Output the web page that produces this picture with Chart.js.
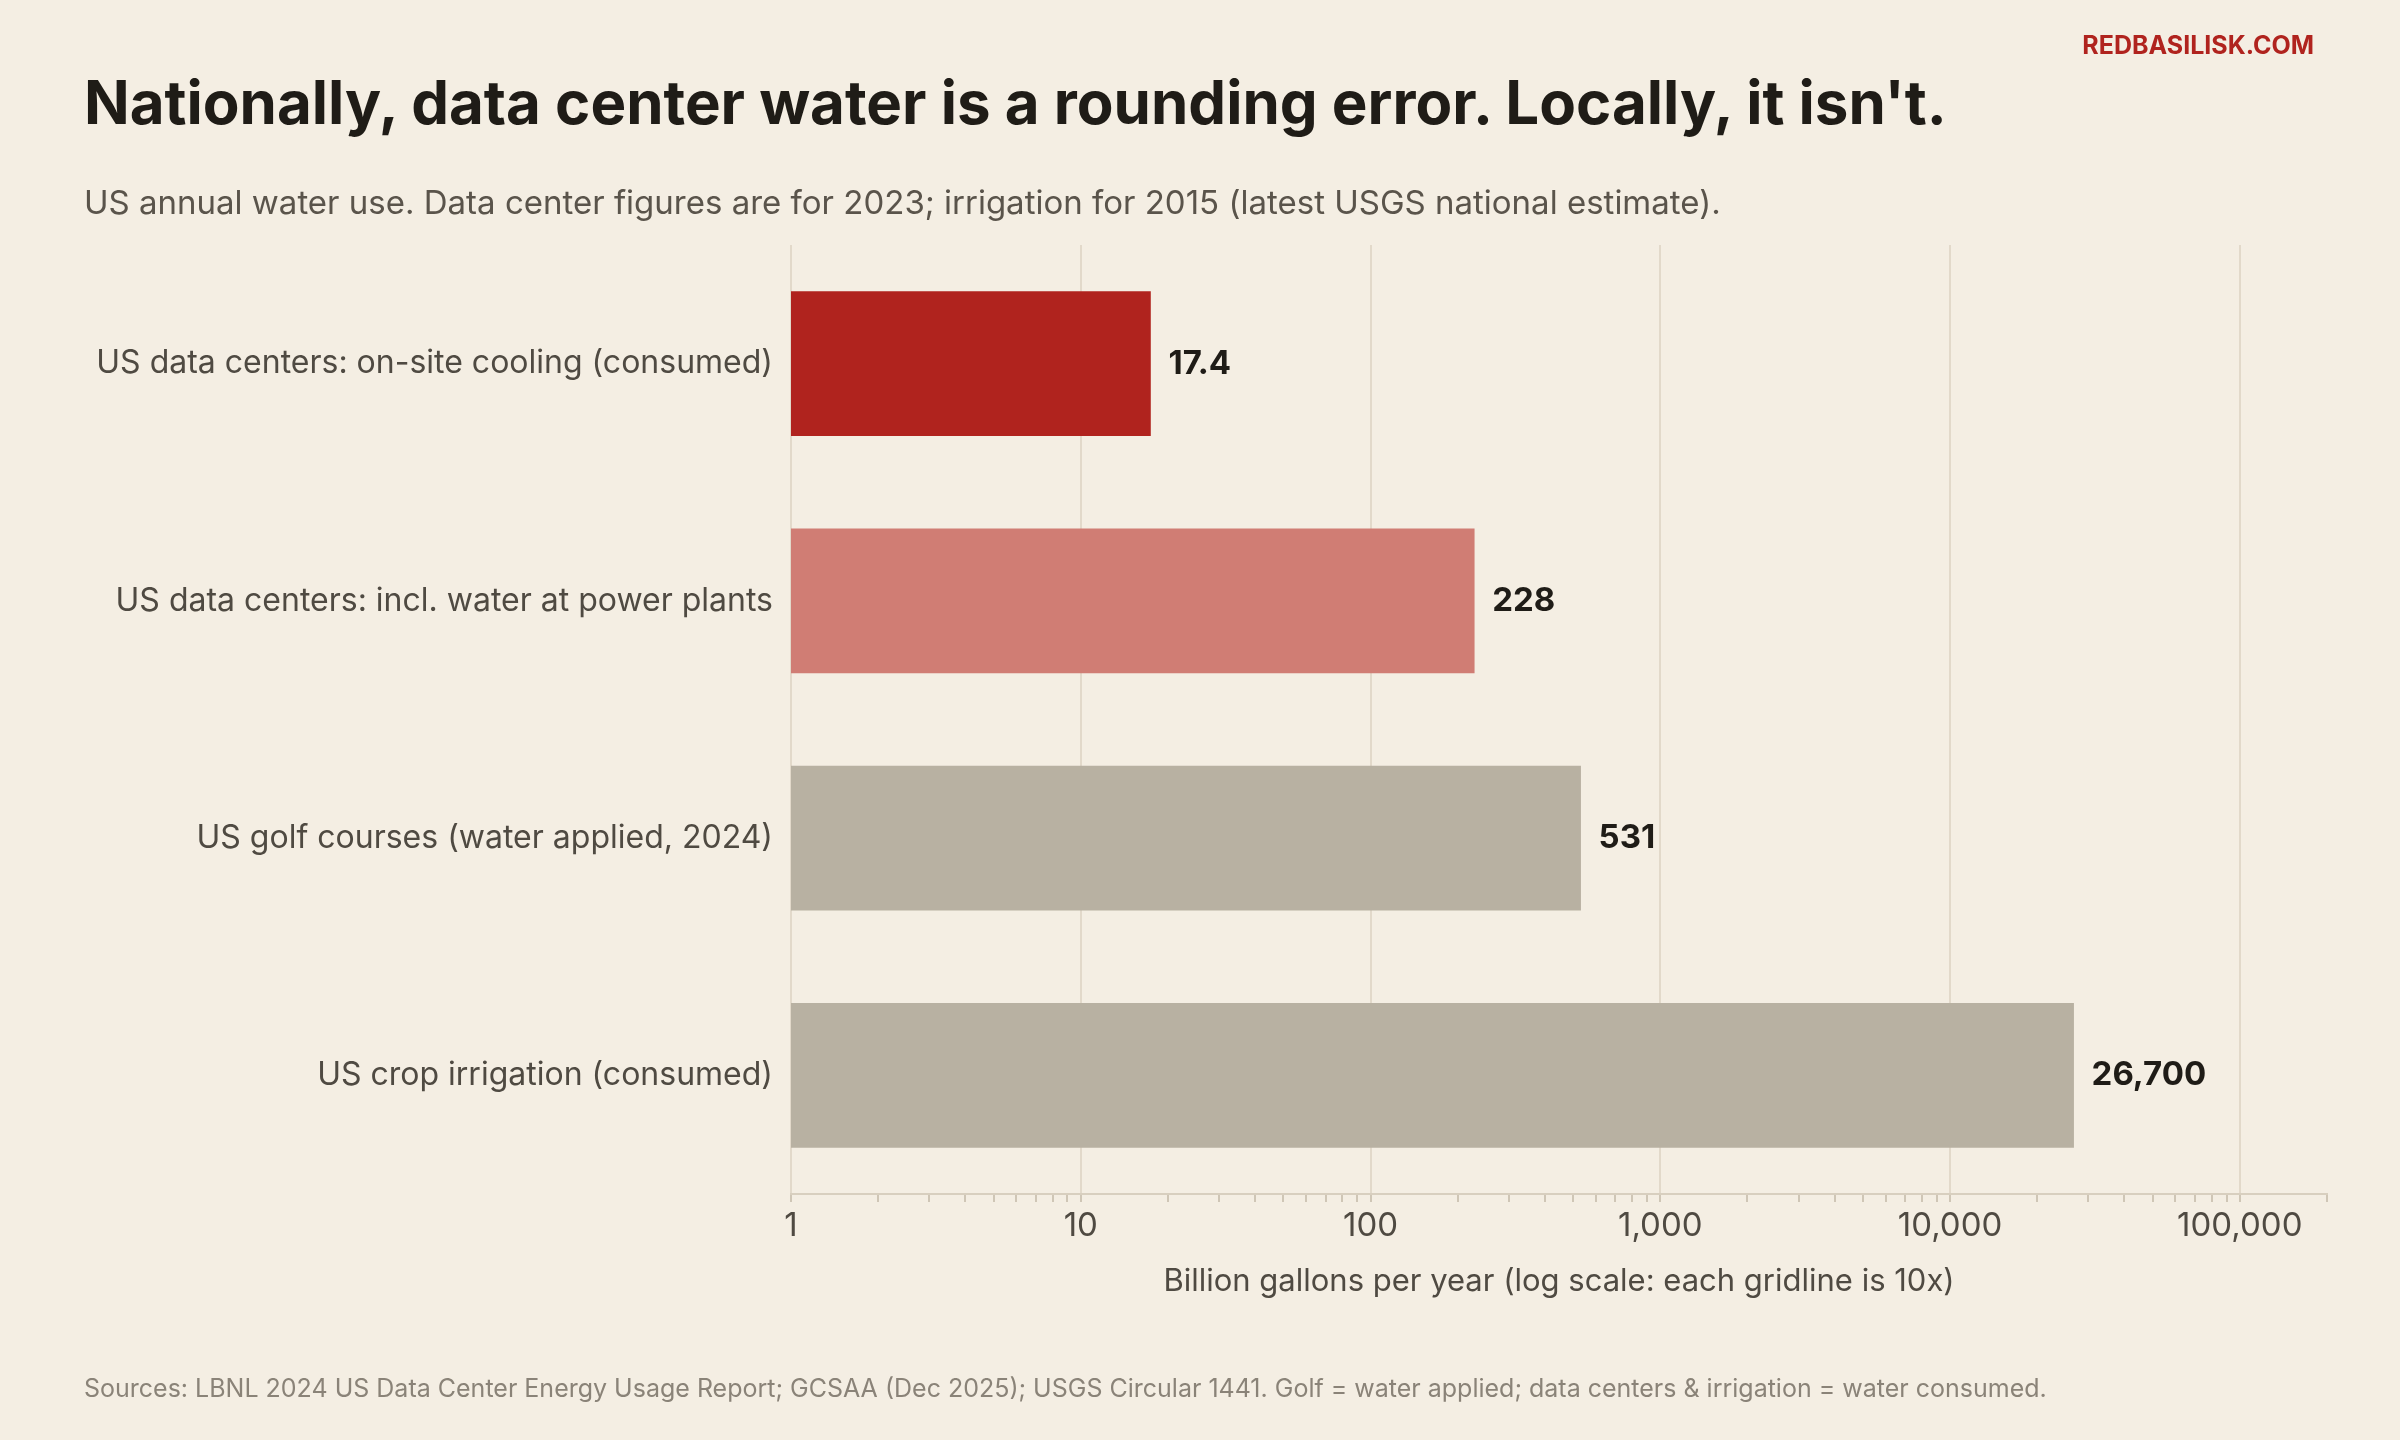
<!DOCTYPE html>
<html>
<head>
<meta charset="utf-8">
<script src="https://cdn.jsdelivr.net/npm/chart.js@4/dist/chart.umd.min.js"></script>
<style>
  body { margin: 0; background: #f4eee3; font-family: Inter, sans-serif; }
  #wrap { position: relative; width: 2400px; height: 1440px; }
  #chart { position: absolute; left: 0; top: 0; }
  .txt { position: absolute; white-space: nowrap; }
  #brand { right: 86px; top: 30px; font-size: 25px; font-weight: 700; color: #b0231e; }
  #title { left: 84px; top: 66px; font-size: 60px; font-weight: 700; color: #1f1c17; }
  #sub { left: 84px; top: 182px; font-size: 33px; color: #5a544b; }
  #foot { left: 84px; top: 1373px; font-size: 25px; color: #8a8378; }
</style>
</head>
<body>
<div id="wrap">
  <canvas id="chart" width="2400" height="1440"></canvas>
  <div class="txt" id="brand">REDBASILISK.COM</div>
  <div class="txt" id="title">Nationally, data center water is a rounding error. Locally, it isn't.</div>
  <div class="txt" id="sub">US annual water use. Data center figures are for 2023; irrigation for 2015 (latest USGS national estimate).</div>
  <div class="txt" id="foot">Sources: LBNL 2024 US Data Center Energy Usage Report; GCSAA (Dec 2025); USGS Circular 1441. Golf = water applied; data centers &amp; irrigation = water consumed.</div>
</div>
<script>
const categories = [
  'US data centers: on-site cooling (consumed)',
  'US data centers: incl. water at power plants',
  'US golf courses (water applied, 2024)',
  'US crop irrigation (consumed)'
];
const values = [17.4, 228, 531, 26700];
const valueLabels = ['17.4', '228', '531', '26,700'];
const barColors = ['#b0231e', '#d07d74', '#b8b1a2', '#b8b1a2'];
const majorTicks = [1, 10, 100, 1000, 10000, 100000];
const majorLabels = ['1', '10', '100', '1,000', '10,000', '100,000'];

const valueLabelPlugin = {
  id: 'valueLabels',
  afterDatasetsDraw(chart) {
    const ctx = chart.ctx;
    const meta = chart.getDatasetMeta(0);
    ctx.save();
    ctx.font = '700 33px Inter';
    ctx.fillStyle = '#1f1c17';
    ctx.textBaseline = 'middle';
    meta.data.forEach((bar, i) => {
      ctx.fillText(valueLabels[i], bar.x + 18, bar.y);
    });
    ctx.restore();
  }
};

new Chart(document.getElementById('chart'), {
  type: 'bar',
  data: {
    labels: categories,
    datasets: [{ data: values, backgroundColor: barColors, barThickness: 144, borderWidth: 0 }]
  },
  options: {
    indexAxis: 'y',
    responsive: false,
    animation: false,
    layout: { padding: { top: 245, bottom: 136, right: 73, left: 0 } },
    plugins: { legend: { display: false }, tooltip: { enabled: false } },
    scales: {
      x: {
        type: 'logarithmic',
        min: 1,
        max: 200000,
        afterBuildTicks(axis) {
          const t = [];
          for (let e = 0; e <= 5; e++) {
            for (let m = 1; m <= 9; m++) {
              const v = m * Math.pow(10, e);
              if (v <= 200000) t.push({ value: v });
            }
          }
          t.push({ value: 200000 });
          axis.ticks = t;
        },
        afterFit(axis) { axis.height = 110; },
        ticks: {
          autoSkip: false,
          maxRotation: 0,
          color: '#4f4a42',
          font: { family: 'Inter', size: 33 },
          padding: 4,
          callback(v) {
            const i = majorTicks.indexOf(v);
            return i >= 0 ? majorLabels[i] : '';
          }
        },
        grid: {
          color: c => (c.tick && majorTicks.includes(c.tick.value)) ? '#e2d9ca' : 'rgba(0,0,0,0)',
          tickColor: '#cfc6b6',
          tickLength: 8,
          lineWidth: 2,
          drawTicks: true
        },
        border: { display: true, color: '#d8cfbf', width: 2 },
        title: {
          display: true,
          text: 'Billion gallons per year (log scale: each gridline is 10x)',
          color: '#4f4a42',
          font: { family: 'Inter', size: 31 },
          padding: { top: 6 }
        }
      },
      y: {
        afterFit(axis) { axis.width = 791; },
        ticks: {
          color: '#4f4a42',
          font: { family: 'Inter', size: 32 },
          padding: 10
        },
        grid: { display: false },
        border: { display: false }
      }
    }
  },
  plugins: [valueLabelPlugin]
});
</script>
</body>
</html>
